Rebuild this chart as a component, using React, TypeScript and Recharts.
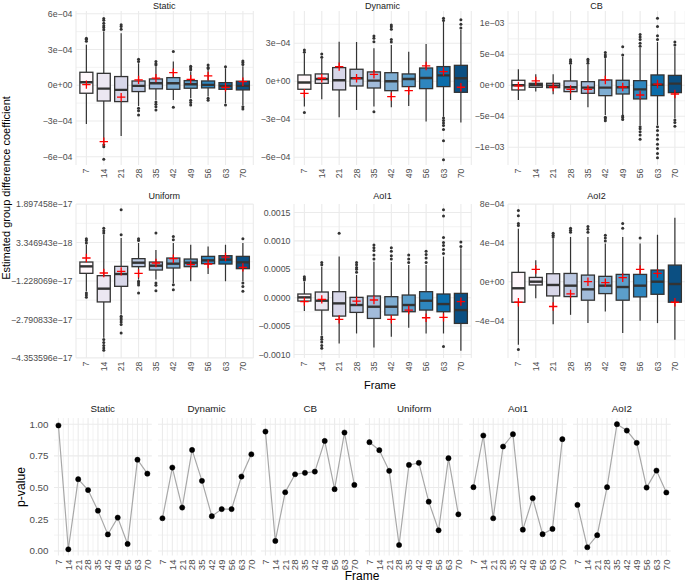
import React from "react";
import {
  ComposedChart,
  LineChart,
  Bar,
  Line,
  XAxis,
  YAxis,
  CartesianGrid,
} from "recharts";

const FONT = "'Liberation Sans', Arial, Helvetica, sans-serif";
const MINUS = "\u2212";

const frames = [7, 14, 21, 28, 35, 42, 49, 56, 63, 70];
const boxFills = [
  "#FFF7FB", "#ECE7F2", "#D8D7E9", "#BBC8E1", "#A2BBDA",
  "#7EADD2", "#5C9ECA", "#2F86BE", "#0B6DAA", "#0B4F82",
];

// boxes: [lower whisker, q1, median, q3, upper whisker] in 1e-4 (Uniform in 1e-18)
const staticBox = [
  [-3.25, -0.67, 0.25, 1.09, 3.4],
  [-4.85, -1.32, -0.28, 1.0, 4.5],
  [-4.26, -1.37, -0.39, 0.73, 4.37],
  [-1.73, -0.53, -0.05, 0.36, 1.85],
  [-1.23, -0.3, 0.17, 0.53, 1.57],
  [-1.23, -0.34, 0.17, 0.64, 1.99],
  [-1.1, -0.25, 0.08, 0.39, 1.15],
  [-0.95, -0.22, 0.03, 0.36, 1.3],
  [-1.5, -0.34, -0.05, 0.22, 1.43],
  [-1.65, -0.39, -0.05, 0.34, 1.6],
];
const staticMean = [0.05, -4.73, -1.0, 0.45, 0.6, 1.06, 0.5, 0.78, -0.17, 0.3];
const staticOut = [
  [3.7, 3.85, 3.95],
  [4.65, 4.85, 5.0, 5.2, 5.45, 5.6, -5.0, -5.15, -6.2],
  [4.7, 4.93, 5.07],
  [2.0, 2.18, -1.93, -2.13, -2.5],
  [1.7, 1.8, 2.0, -1.4, -1.6, -1.8, -2.07],
  [2.83, -1.85],
  [1.3, 1.45, 1.6, -1.25, -1.45, -1.65],
  [1.4, 1.5, 1.7, -1.1, -1.25],
  [1.55, -1.65],
  [1.75, 1.9, 2.04, -1.8, -2.0],
];

const dynamicBox = [
  [-2.0, -0.63, -0.1, 0.5, 2.2],
  [-1.42, -0.16, 0.18, 0.58, 1.8],
  [-2.84, -0.68, 0.08, 1.08, 3.13],
  [-2.26, -0.37, 0.24, 0.95, 3.1],
  [-2.0, -0.53, 0.05, 0.74, 2.6],
  [-2.05, -0.74, 0.0, 0.68, 2.87],
  [-1.95, -0.42, 0.18, 0.58, 2.34],
  [-3.18, -0.58, 0.26, 1.05, 2.95],
  [-2.8, -0.42, 0.47, 1.16, 4.7],
  [-3.26, -0.87, 0.24, 1.26, 4.05],
];
const dynamicMean = [-0.95, 0.24, 1.16, 0.24, 0.55, -1.21, -0.74, 1.21, 0.76, -0.47];
const dynamicOut = [
  [2.3, 2.47, -2.47],
  [1.9, 2.16],
  [],
  [],
  [3.13, 3.4, 3.58, -2.4],
  [3.1, 3.3, 4.1, 4.3, 4.45],
  [],
  [],
  [4.8, 4.97, -2.9, -3.1, -3.3, -3.5, -3.8, -4.7, -6.2],
  [4.2, 4.5, 4.85],
];

const cbBox = [
  [-2.37, -0.75, 0.0, 0.81, 2.6],
  [-1.0, -0.32, 0.05, 0.32, 1.8],
  [-1.45, -0.38, -0.05, 0.32, 1.8],
  [-2.37, -1.02, -0.32, 0.7, 3.28],
  [-3.55, -1.29, -0.38, 0.59, 3.28],
  [-4.8, -1.67, -0.38, 0.86, 4.35],
  [-4.8, -1.4, -0.32, 0.81, 4.62],
  [-6.4, -2.2, -0.65, 0.75, 6.0],
  [-6.4, -1.67, 0.1, 1.67, 7.0],
  [-5.3, -1.18, 0.27, 1.6, 6.2],
];
const cbMean = [-0.1, 0.7, -0.27, -0.65, -0.65, 0.86, -0.27, -1.56, 0.2, -1.4];
const cbOut = [
  [],
  [],
  [],
  [3.55, 3.85, 4.1],
  [3.55, 3.9, 4.2],
  [4.62, 4.9, 5.27, -5.16, -5.4, -5.7],
  [4.9, 6.2, -4.95, -5.2, -5.5],
  [6.3, 6.8, 7.4, 7.8, 8.2, -6.7, -7.0, -7.5, -8.0, -8.7],
  [7.4, 8.0, 9.5, 10.8, -6.7, -7.3, -8.0, -8.7, -9.5, -10.2, -11.0, -11.7],
  [6.5, 7.0, -5.6, -6.0, -6.6],
];

const uniformBox = [
  [-16.47, -9.17, -6.33, -4.57, 2.47],
  [-35.4, -20.8, -15.4, -10.12, 6.53],
  [-25.95, -14.45, -9.44, -6.33, 5.17],
  [-11.7, -6.46, -4.84, -3.2, 3.14],
  [-11.7, -7.82, -6.06, -4.57, 0.3],
  [-13.1, -7.0, -5.24, -2.94, 3.14],
  [-12.4, -6.46, -4.84, -3.35, 2.47],
  [-9.44, -5.24, -3.89, -2.27, 1.79],
  [-12.4, -5.38, -3.62, -2.0, 2.47],
  [-12.4, -7.27, -4.7, -2.27, 3.14],
];
const uniformMean = [-2.94, -9.03, -8.36, -9.17, -4.97, -3.21, -5.65, -5.38, -2.54, -6.73];
const uniformOut = [
  [3.14, 4.2, 4.9, -17.15, -18.0, -18.9],
  [7.2, 8.2, 9.2, -36.1, -37.3, -38.5, -39.5, -40.4],
  [6.5, 16.7, -26.6, -27.3, -28.0, -29.0, -30.0, -33.4],
  [4.2, 4.9, -12.4, -13.1, -13.9, -17.15],
  [7.2, -13.1, -14.0, -16.2],
  [4.5, 5.85, -13.8, -15.8],
  [],
  [],
  [],
  [4.9, -13.1, -14.5, -16.5],
];

const aoi1Box = [
  [-2.35, -0.59, 0.06, 0.65, 2.82],
  [-6.6, -2.18, -0.53, 1.0, 5.47],
  [-8.06, -3.24, -1.0, 1.06, 7.24],
  [-6.3, -2.59, -1.29, 0.06, 4.0],
  [-8.76, -3.65, -1.59, 0.3, 6.35],
  [-6.88, -3.06, -1.59, 0.18, 6.3],
  [-5.3, -2.47, -1.29, 0.47, 5.76],
  [-6.3, -2.18, -0.53, 1.06, 5.76],
  [-6.3, -2.47, -1.12, 0.65, 7.24],
  [-9.35, -4.53, -2.18, 0.76, 8.7],
];
const aoi1Mean = [-0.7, -0.29, -3.82, -0.59, -0.41, -3.82, -2.18, -3.53, -3.47, -0.7];
const aoi1Out = [
  [3.1, 3.4, 3.7],
  [5.8, 6.2, -6.9, -7.3, -7.8, -8.4, -8.9],
  [11.35],
  [4.5, 5.0, 5.3, 5.8, 6.2],
  [6.8, 7.5, 8.3, 8.8, 9.3],
  [6.8, 7.4, 8.2, 8.8],
  [6.2, 6.8, 7.5],
  [6.2, 7.0, 7.6, 8.2],
  [7.8, 8.5, 9.2, 9.7, 10.6, 14.4, 15.5, -8.6],
  [9.0, 9.8],
];

const aoi2Box = [
  [-6.5, -2.12, -0.68, 0.96, 5.47],
  [-1.7, -0.34, 0.0, 0.44, 2.22],
  [-4.38, -1.47, -0.34, 0.82, 4.44],
  [-3.42, -1.54, -0.41, 0.85, 4.6],
  [-4.27, -1.91, -0.79, 0.68, 4.6],
  [-3.08, -1.23, -0.41, 0.55, 3.93],
  [-5.3, -1.91, -0.55, 0.75, 4.6],
  [-4.03, -1.57, -0.41, 0.75, 3.93],
  [-4.27, -1.3, 0.0, 1.2, 4.85],
  [-5.98, -2.12, -0.24, 1.71, 6.6],
];
const aoi2Mean = [-2.12, 1.26, -2.56, -1.26, 0.0, -0.1, 0.41, 1.26, 0.85, -2.12];
const aoi2Out = [
  [5.8, 6.0, 6.8, 7.35, -7.0],
  [],
  [4.6, 4.8, 5.0],
  [5.1, 5.3, 5.5],
  [5.1, 5.4, 5.7],
  [4.2, 4.5, 4.8],
  [5.5, 6.0],
  [4.5],
  [],
  [],
];

// p-values per frame
const pStatic = [0.99, 0.013, 0.566, 0.48, 0.318, 0.13, 0.263, 0.055, 0.72, 0.61];
const pDynamic = [0.258, 0.658, 0.342, 0.797, 0.553, 0.274, 0.33, 0.33, 0.587, 0.763];
const pCB = [0.942, 0.079, 0.463, 0.605, 0.616, 0.626, 0.868, 0.487, 0.934, 0.521];
const pUniform = [0.858, 0.795, 0.632, 0.047, 0.679, 0.695, 0.389, 0.163, 0.732, 0.289];
const pAoI1 = [0.503, 0.911, 0.258, 0.824, 0.921, 0.168, 0.416, 0.132, 0.174, 0.882];
const pAoI2 = [0.363, 0.029, 0.124, 0.503, 1.0, 0.95, 0.853, 0.5, 0.634, 0.461];

const uniformTicks = [-43.53596, -27.90833, -12.28069, 3.346943, 18.97458];
const pTicks = [0, 0.25, 0.5, 0.75, 1];

function sci(v: number, digits: number) {
  const [m, e] = v.toExponential(digits).split("e");
  const out = m + "e" + e[0] + e.slice(1).padStart(2, "0");
  return out.replace(/-/g, MINUS);
}

const fmtE4 = (v: number) => sci(v * 1e-4, 0);

const panels = [
  {
    title: "Static", stats: staticBox, means: staticMean, outs: staticOut,
    domain: [-6.69, 6.23], ticks: [-6, -3, 0, 3, 6], minor: [-4.5, -1.5, 1.5, 4.5],
    fmt: fmtE4, left: 75.6, top: 11, yw: 72,
  },
  {
    title: "Dynamic", stats: dynamicBox, means: dynamicMean, outs: dynamicOut,
    domain: [-6.61, 5.55], ticks: [-6, -3, 0, 3], minor: [-4.5, -1.5, 1.5, 4.5],
    fmt: fmtE4, left: 293.9, top: 11, yw: 40,
  },
  {
    title: "CB", stats: cbBox, means: cbMean, outs: cbOut,
    domain: [-12.85, 11.98], ticks: [-10, -5, 0, 5, 10], minor: [-7.5, -2.5, 2.5, 7.5],
    fmt: fmtE4, left: 507.9, top: 11, yw: 40,
  },
  {
    title: "Uniform", stats: uniformBox, means: uniformMean, outs: uniformOut,
    domain: [-43.6, 19.03], ticks: uniformTicks,
    minor: [-35.72215, -20.09451, -4.466874, 11.16076],
    fmt: (v: number) => sci(v * 1e-18, 6), left: 75.6, top: 204, yw: 72,
  },
  {
    title: "AoI1", stats: aoi1Box, means: aoi1Mean, outs: aoi1Out,
    domain: [-10.62, 16.5], ticks: [-10, -5, 0, 5, 10, 15], minor: [-7.5, -2.5, 2.5, 7.5, 12.5],
    fmt: (v: number) => (v * 1e-4).toFixed(4).replace("-", MINUS), left: 293.9, top: 204, yw: 40,
  },
  {
    title: "AoI2", stats: aoi2Box, means: aoi2Mean, outs: aoi2Out,
    domain: [-7.87, 8.01], ticks: [-4, 0, 4, 8], minor: [-6, -2, 2, 6],
    fmt: fmtE4, left: 507.9, top: 204, yw: 40,
  },
];

const pPanels = [
  { title: "Static", p: pStatic },
  { title: "Dynamic", p: pDynamic },
  { title: "CB", p: pCB },
  { title: "Uniform", p: pUniform },
  { title: "AoI1", p: pAoI1 },
  { title: "AoI2", p: pAoI2 },
];

const PW = 177.3;
const PH = 154;
const PW2 = 97.8;
const PH2 = 137.5;
const P2_TOP = 418.1;
const GRID = "#EBEBEB";

function RotTick(props: any) {
  const { x, y, payload, fs } = props;
  return (
    <text
      transform={`translate(${x},${y}) rotate(-90)`}
      textAnchor="end"
      dy="0.35em"
      fontSize={fs}
      fill="#4D4D4D"
      fontFamily={FONT}
    >
      {payload.value}
    </text>
  );
}

function BoxShape(props: any) {
  const { x, y, width, height, payload } = props;
  if (!payload) return null;
  const [lo, hi] = payload.range;
  const top = height >= 0 ? y : y + height;
  const h = Math.abs(height);
  const py = (v: number) => top + (h * (hi - v)) / (hi - lo);
  const cx = x + width / 2;
  const yq1 = py(payload.q1);
  const yq3 = py(payload.q3);
  return (
    <g>
      <line x1={cx} x2={cx} y1={py(payload.hi)} y2={yq3} stroke="#333333" strokeWidth={1.2} />
      <line x1={cx} x2={cx} y1={yq1} y2={py(payload.lo)} stroke="#333333" strokeWidth={1.2} />
      <rect x={x} y={yq3} width={width} height={yq1 - yq3} fill={payload.fill} stroke="#333333" strokeWidth={1.3} />
      <line x1={x} x2={x + width} y1={py(payload.med)} y2={py(payload.med)} stroke="#333333" strokeWidth={2.4} />
      {payload.outs.map((o: number, i: number) => (
        <circle key={i} cx={cx} cy={py(o)} r={1.5} fill="#333333" />
      ))}
    </g>
  );
}

function PlusDot(props: any) {
  const { cx, cy } = props;
  if (cx == null || cy == null) return <g />;
  const s = 4.2;
  return (
    <path
      d={`M${cx - s},${cy}H${cx + s}M${cx},${cy - s}V${cy + s}`}
      stroke="#FF0000"
      strokeWidth={1.3}
      fill="none"
    />
  );
}

function BoxPanel({ spec }: { spec: (typeof panels)[number] }) {
  const rows = frames.map((f, i) => {
    const [lo, q1, med, q3, hi] = spec.stats[i];
    const outs = spec.outs[i];
    return {
      frame: String(f),
      range: [Math.min(lo, ...outs), Math.max(hi, ...outs)],
      lo, q1, med, q3, hi, outs,
      mean: spec.means[i],
      fill: boxFills[i],
    };
  });
  const mt = 6;
  return (
    <div style={{ position: "absolute", left: spec.left - spec.yw, top: spec.top - mt }}>
      <ComposedChart
        width={spec.yw + PW + 2}
        height={PH + mt + 22}
        data={rows}
        margin={{ top: mt, right: 2, bottom: 0, left: 0 }}
        barCategoryGap="12.5%"
      >
        <CartesianGrid horizontalValues={spec.minor} vertical={false} stroke={GRID} strokeWidth={0.6} />
        <CartesianGrid horizontalValues={spec.ticks} stroke={GRID} strokeWidth={1.1} />
        <XAxis
          dataKey="frame"
          type="category"
          interval={0}
          axisLine={false}
          tickLine={false}
          tickSize={0}
          tickMargin={3.5}
          height={22}
          padding={{ left: 1.7, right: 1.7 }}
          tick={<RotTick fs={8.8} />}
        />
        <YAxis
          type="number"
          domain={spec.domain}
          ticks={spec.ticks}
          tickFormatter={spec.fmt}
          allowDataOverflow
          interval={0}
          width={spec.yw}
          axisLine={false}
          tickLine={false}
          tickSize={0}
          tickMargin={3.5}
          tick={{ fontSize: 8.8, fill: "#4D4D4D", fontFamily: FONT }}
        />
        <Bar dataKey="range" shape={<BoxShape />} isAnimationActive={false} />
        <Line
          dataKey="mean"
          stroke="none"
          dot={<PlusDot />}
          activeDot={false}
          isAnimationActive={false}
        />
      </ComposedChart>
    </div>
  );
}

const frameMinor = frames.slice(1).map((f) => f - 3.5);
const pMinor = [0.125, 0.375, 0.625, 0.875];

function PPanel({ idx }: { idx: number }) {
  const spec = pPanels[idx];
  const rows = frames.map((f, i) => ({ frame: f, p: spec.p[i] }));
  const first = idx === 0;
  const yw = first ? 50 : 0;
  const left = 53.86 + 103.8 * idx;
  const mt = 6;
  return (
    <div style={{ position: "absolute", left: left - yw, top: P2_TOP - mt }}>
      <LineChart
        width={yw + PW2 + 3}
        height={PH2 + mt + 20}
        data={rows}
        margin={{ top: mt, right: 3, bottom: 0, left: 0 }}
      >
        <CartesianGrid horizontalValues={pMinor} verticalValues={frameMinor} stroke={GRID} strokeWidth={0.6} />
        <CartesianGrid horizontalValues={pTicks} verticalValues={frames} stroke={GRID} strokeWidth={1.1} />
        <XAxis
          dataKey="frame"
          type="number"
          domain={[3.85, 73.15]}
          ticks={frames}
          interval={0}
          allowDataOverflow
          axisLine={false}
          tickLine={false}
          tickSize={0}
          tickMargin={4}
          height={20}
          tick={<RotTick fs={9.6} />}
        />
        <YAxis
          type="number"
          domain={[-0.036, 1.049]}
          ticks={pTicks}
          tickFormatter={(v: number) => v.toFixed(2)}
          allowDataOverflow
          interval={0}
          hide={!first}
          width={yw}
          axisLine={false}
          tickLine={false}
          tickSize={0}
          tickMargin={5.5}
          tick={{ fontSize: 9.8, fill: "#4D4D4D", fontFamily: FONT }}
        />
        <Line
          dataKey="p"
          stroke="#A8A8A8"
          strokeWidth={1.2}
          dot={{ r: 2.6, fill: "#000000", stroke: "#000000", strokeWidth: 0.5 }}
          activeDot={false}
          isAnimationActive={false}
        />
      </LineChart>
    </div>
  );
}

function Label({ x, y, size, text, rotate, color }: any) {
  return (
    <div
      style={{
        position: "absolute",
        left: x,
        top: y,
        transform: `translate(-50%, -50%)${rotate ? " rotate(-90deg)" : ""}`,
        fontSize: size,
        fontFamily: FONT,
        color: color || "#000000",
        whiteSpace: "nowrap",
        lineHeight: 1.15,
      }}
    >
      {text}
    </div>
  );
}

export default function App() {
  return (
    <div
      style={{
        position: "absolute",
        left: 0,
        top: 0,
        width: 685,
        height: 585,
        background: "#FFFFFF",
        overflow: "hidden",
        fontFamily: FONT,
      }}
    >
      {panels.map((s) => (
        <BoxPanel key={s.title} spec={s} />
      ))}
      {panels.map((s) => (
        <Label
          key={"t" + s.title}
          x={s.left + PW / 2}
          y={s.top === 11 ? 5.5 : 196}
          size={9}
          color="#1A1A1A"
          text={s.title}
        />
      ))}
      <Label x={6} y={188} size={11} rotate text="Estimated group difference coefficient" />
      <Label x={380} y={385} size={11} text="Frame" />

      {pPanels.map((s, i) => (
        <PPanel key={s.title} idx={i} />
      ))}
      {pPanels.map((s, i) => (
        <Label
          key={"pt" + s.title}
          x={53.86 + 103.8 * i + PW2 / 2}
          y={409}
          size={9.8}
          color="#1A1A1A"
          text={s.title}
        />
      ))}
      <Label x={21} y={487} size={12.2} rotate text="p-value" />
      <Label x={362} y={576.5} size={12} text="Frame" />
    </div>
  );
}
